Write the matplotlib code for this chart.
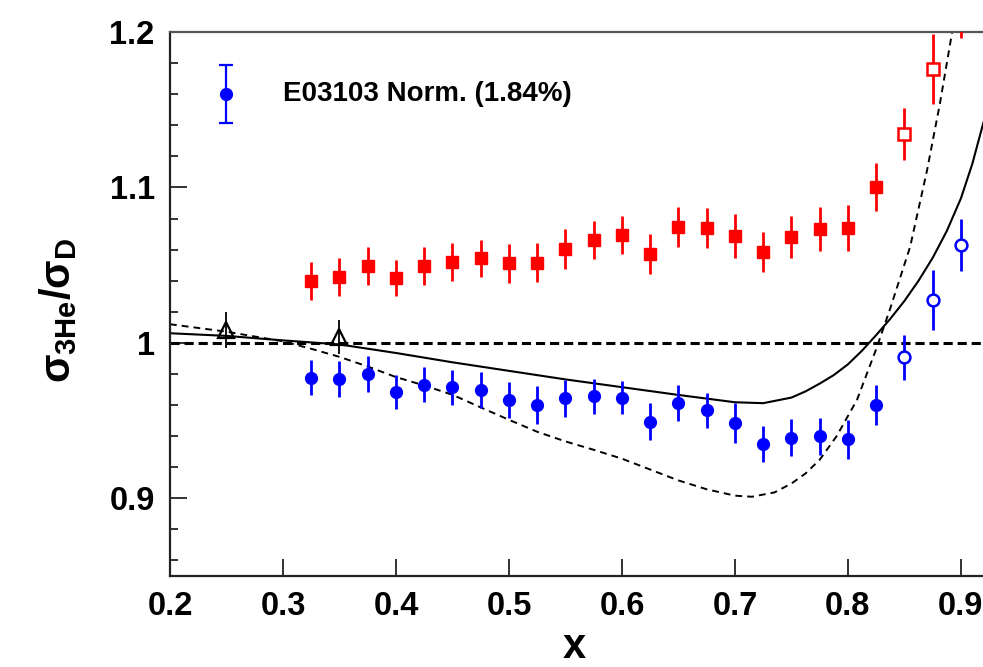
import numpy as np
import matplotlib
matplotlib.use("Agg")
import matplotlib.pyplot as plt
from matplotlib.ticker import MultipleLocator, FixedLocator

plt.rcParams['font.family'] = ['Liberation Sans', 'DejaVu Sans']
plt.rcParams['font.weight'] = 'bold'
plt.rcParams['mathtext.fontset'] = 'custom'
plt.rcParams['mathtext.rm'] = 'Liberation Sans:bold'
plt.rcParams['mathtext.bf'] = 'Liberation Sans:bold'
plt.rcParams['mathtext.it'] = 'Liberation Sans'

# E03103 ratio, 3He/D (filled = DIS region, open = resonance region)
x_pts = [0.325, 0.35, 0.375, 0.4, 0.425, 0.45, 0.475, 0.5, 0.525, 0.55, 0.575,
         0.6, 0.625, 0.65, 0.675, 0.7, 0.725, 0.75, 0.775, 0.8, 0.825]
he3_d = [0.9777, 0.9768, 0.980, 0.9686, 0.973, 0.9713, 0.9698, 0.9633, 0.960, 0.9644, 0.9655,
         0.9648, 0.9494, 0.9614, 0.9565, 0.9485, 0.935, 0.939, 0.9398, 0.938, 0.960]
he3_d_err = [0.0115, 0.0115, 0.0115, 0.011, 0.0113, 0.0115, 0.0115, 0.0115, 0.012, 0.012, 0.0115,
             0.0107, 0.0118, 0.0115, 0.0115, 0.0126, 0.0116, 0.0118, 0.012, 0.0125, 0.013]
x_open = [0.85, 0.875, 0.9]
he3_d_open = [0.9908, 1.0277, 1.063]
he3_d_open_err = [0.0145, 0.0195, 0.0168]

# isoscalar-corrected ratio (red)
he3_d_iso = [1.0399, 1.0424, 1.0495, 1.0416, 1.0495, 1.0523, 1.0545, 1.0512, 1.0517, 1.0605, 1.0662,
             1.0695, 1.0572, 1.0746, 1.074, 1.0688, 1.0585, 1.0682, 1.0733, 1.0738, 1.1005]
he3_d_iso_err = [0.012, 0.012, 0.012, 0.0116, 0.0125, 0.0122, 0.0118, 0.0126, 0.0123, 0.0129, 0.0125,
                 0.0123, 0.013, 0.0129, 0.013, 0.014, 0.0129, 0.0134, 0.0141, 0.0147, 0.0155]
he3_d_iso_open = [1.1342, 1.1762, 1.222]
he3_d_iso_open_err = [0.0166, 0.0223, 0.026]

# HERMES points
x_hermes = [0.25, 0.35]
hermes = [1.0084, 1.004]
hermes_err = [0.0114, 0.011]

# model curves
x_solid = [0.2, 0.25, 0.3, 0.35, 0.4, 0.45, 0.5, 0.55, 0.6, 0.65, 0.7, 0.725, 0.75,
           0.7625, 0.775, 0.7875, 0.8, 0.8125, 0.825, 0.8375, 0.85, 0.8625, 0.875,
           0.8875, 0.9, 0.91, 0.92]
y_solid = [1.0062, 1.0045, 1.0016, 0.999, 0.9935, 0.9875, 0.982, 0.9765, 0.9715, 0.9665, 0.9618,
           0.9612, 0.9648, 0.9688, 0.9738, 0.9793, 0.9862, 0.9950, 1.0050, 1.0155, 1.027, 1.040,
           1.0547, 1.072, 1.093, 1.115, 1.142]
x_dash = [0.2, 0.25, 0.3, 0.325, 0.35, 0.375, 0.4, 0.425, 0.45, 0.475, 0.5, 0.525, 0.55, 0.575,
          0.6, 0.625, 0.65, 0.675, 0.7, 0.715, 0.735, 0.75, 0.7625, 0.775, 0.79, 0.808,
          0.825, 0.837, 0.855, 0.87, 0.8814, 0.892, 0.9]
y_dash = [1.012, 1.0072, 1.001, 0.9962, 0.991, 0.9848, 0.978, 0.9726, 0.9666, 0.9585, 0.9505,
          0.9428, 0.9366, 0.9312, 0.9255, 0.9185, 0.9115, 0.9058, 0.9017, 0.901, 0.9038, 0.9095,
          0.916, 0.9248, 0.940, 0.9633, 0.996, 1.0212, 1.0617, 1.111, 1.154, 1.199, 1.235]

fig = plt.figure(figsize=(9.83, 6.67), dpi=100)
ax = fig.add_axes([0.1729, 0.1364, 0.9196, 0.8156])
ax.set_xlim(0.2, 1.0)
ax.set_ylim(0.85, 1.2)

ax.axhline(1.0, color='black', lw=2.2, linestyle=(0, (3, 1.6)), zorder=2)
ax.plot(x_solid, y_solid, color='black', lw=1.5, zorder=2)
ax.plot(x_dash, y_dash, color='black', lw=1.4, linestyle=(0, (3.5, 2.6)), zorder=2)

blue = '#0000ff'
red = '#ff0000'
ax.errorbar(x_pts, he3_d, yerr=he3_d_err, fmt='o', color=blue, ms=8.5,
            elinewidth=2, capsize=0, zorder=4)
ax.errorbar(x_open, he3_d_open, yerr=he3_d_open_err, fmt='o', color=blue, ms=8.5,
            mfc='white', mec=blue, mew=1.8, elinewidth=2, capsize=0, zorder=4)
ax.errorbar(x_pts, he3_d_iso, yerr=he3_d_iso_err, fmt='s', color=red, ms=8,
            elinewidth=2, capsize=0, zorder=4)
ax.errorbar(x_open, he3_d_iso_open, yerr=he3_d_iso_open_err, fmt='s', color=red, ms=8,
            mfc='white', mec=red, mew=1.8, elinewidth=2, capsize=0, zorder=4)
ax.errorbar(x_hermes, hermes, yerr=hermes_err, fmt='^', color='black', ms=11,
            mfc='none', mec='black', mew=1.6, elinewidth=1.3, capsize=0, zorder=5)

# normalisation marker
ax.errorbar([0.25], [1.16], yerr=[0.0185], fmt='o', color=blue, ms=8.5,
            elinewidth=1.6, capsize=5, capthick=1.6, zorder=4)
ax.text(0.3, 1.16, 'E03103 Norm. (1.84%)', fontsize=20, fontweight='bold',
        va='center', ha='left')

ax.xaxis.set_major_locator(MultipleLocator(0.1))
ax.yaxis.set_major_locator(FixedLocator([0.9, 1.0, 1.1, 1.2]))
ax.yaxis.set_minor_locator(FixedLocator(np.arange(0.86, 1.2, 0.02)))
ax.set_yticklabels(['0.9', '1', '1.1', '1.2'])
ax.set_xticks([0.2, 0.3, 0.4, 0.5, 0.6, 0.7, 0.8, 0.9])
ax.set_xticklabels(['0.2', '0.3', '0.4', '0.5', '0.6', '0.7', '0.8', '0.9'])
ax.tick_params(axis='both', which='major', direction='in', length=12, width=1.3,
               labelsize=23.5, pad=11, color='#222222')
ax.tick_params(axis='y', which='minor', direction='in', length=6, width=1.3, color='#222222')
ax.tick_params(axis='x', which='minor', length=0)
for lab in ax.get_xticklabels() + ax.get_yticklabels():
    lab.set_fontweight('bold')

for side in ['left', 'bottom']:
    ax.spines[side].set_linewidth(1.6)
    ax.spines[side].set_color('#222222')
ax.spines['top'].set_linewidth(1.6)
ax.spines['top'].set_color('#555555')
ax.spines['right'].set_linewidth(1.6)

ax.set_xlabel('x', fontsize=30, fontweight='bold')
ax.xaxis.set_label_coords(0.447, -0.094)
fig.text(58 / 983, 1 - 311 / 667, r'$\sigma_{\mathbf{3He}}/\sigma_{\mathbf{D}}$',
         fontsize=30, rotation=90, ha='center', va='center')

fig.savefig('out.png', dpi=100)
